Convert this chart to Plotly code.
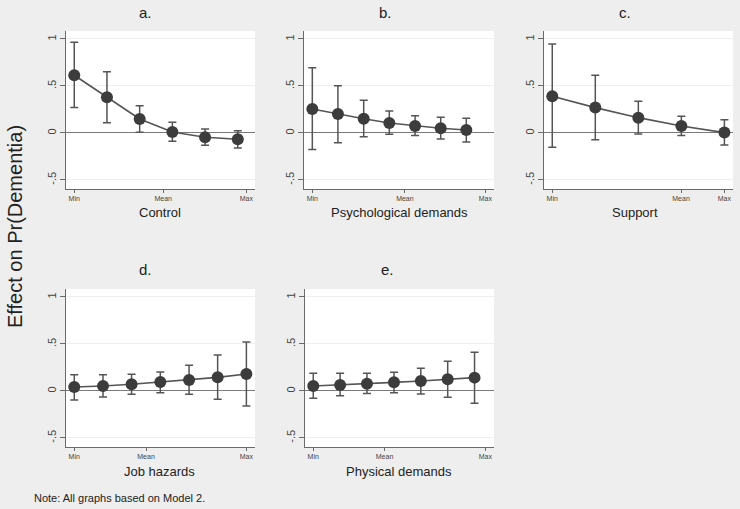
import plotly.graph_objects as go

W, H = 740, 509

# ---- data (x in units where Min=0, Max=1) ----
a_x = [0, 0.19, 0.38, 0.57, 0.76, 0.95]
a_y = [0.614, 0.38, 0.149, 0.011, -0.046, -0.067]
a_hi = [0.965, 0.652, 0.29, 0.114, 0.043, 0.025]
a_lo = [0.27, 0.11, 0.007, -0.088, -0.131, -0.16]
a_mean = 0.517

b_x = [0, 0.148, 0.297, 0.445, 0.594, 0.742, 0.89]
b_y = [0.255, 0.202, 0.152, 0.106, 0.074, 0.05, 0.032]
b_hi = [0.695, 0.503, 0.348, 0.234, 0.184, 0.167, 0.156]
b_lo = [-0.177, -0.103, -0.039, -0.014, -0.028, -0.064, -0.096]
b_mean = 0.535

c_x = [0, 0.25, 0.5, 0.75, 1.0]
c_y = [0.39, 0.27, 0.163, 0.074, 0.004]
c_hi = [0.947, 0.614, 0.337, 0.177, 0.142]
c_lo = [-0.152, -0.071, -0.011, -0.028, -0.128]
c_mean = 0.748

d_x = [0, 0.167, 0.333, 0.5, 0.667, 0.833, 1.0]
d_y = [0.043, 0.053, 0.071, 0.096, 0.117, 0.145, 0.181]
d_hi = [0.174, 0.174, 0.177, 0.202, 0.273, 0.383, 0.521]
d_lo = [-0.096, -0.064, -0.035, -0.018, -0.035, -0.089, -0.16]
d_mean = 0.417

e_x = [0, 0.156, 0.312, 0.469, 0.625, 0.781, 0.937]
e_y = [0.053, 0.064, 0.078, 0.092, 0.106, 0.124, 0.142]
e_hi = [0.188, 0.188, 0.188, 0.199, 0.241, 0.316, 0.411]
e_lo = [-0.078, -0.05, -0.028, -0.018, -0.032, -0.067, -0.131]
e_mean = 0.414

panel_letters = ["a.", "b.", "c.", "d.", "e."]
x_titles = ["Control", "Psychological demands", "Support", "Job hazards", "Physical demands"]
y_tickvals = [-0.5, 0, 0.5, 1]
y_ticktext = ["-.5", "0", ".5", "1"]
x_ticktext = ["Min", "Mean", "Max"]
y_title = "Effect on Pr(Dementia)"
note = "Note: All graphs based on Model 2."

panels = [
    (a_x, a_y, a_hi, a_lo, a_mean),
    (b_x, b_y, b_hi, b_lo, b_mean),
    (c_x, c_y, c_hi, c_lo, c_mean),
    (d_x, d_y, d_hi, d_lo, d_mean),
    (e_x, e_y, e_hi, e_lo, e_mean),
]

# ---- layout geometry (pixels) ----
boxes = [  # left, right, top, bottom
    (66, 255, 31, 189),
    (304, 494, 31, 189),
    (544, 733, 31, 189),
    (66, 255, 289, 447),
    (305, 494, 289, 447),
]
title_pos = [(145, 12), (385, 12), (625, 12), (145, 269), (387, 269)]
xtitle_pos = [(160, 212), (399, 212), (635, 212), (159, 471), (399, 471)]

FONT = "Liberation Sans, Arial, Helvetica, sans-serif"
mark_col = "#3c3c3c"
line_col = "#555555"
axis_col = "#6a6a6a"

fig = go.Figure()
layout = dict(
    width=W, height=H,
    margin=dict(l=0, r=0, t=0, b=0),
    paper_bgcolor="#eeeeee",
    plot_bgcolor="#ffffff",
    showlegend=False,
    font=dict(family=FONT, color="#333333"),
)
annotations = []

for i, ((xs, ys, hi, lo, mean), (l, r, t, b)) in enumerate(zip(panels, boxes)):
    n = i + 1
    xa = "x" if n == 1 else f"x{n}"
    ya = "y" if n == 1 else f"y{n}"
    fig.add_trace(go.Scatter(
        x=xs, y=ys, mode="lines+markers",
        xaxis=xa, yaxis=ya,
        line=dict(color=line_col, width=1.6),
        marker=dict(color=mark_col, size=12),
        error_y=dict(type="data", symmetric=False,
                     array=[h - v for h, v in zip(hi, ys)],
                     arrayminus=[v - lo_ for v, lo_ in zip(ys, lo)],
                     color=line_col, thickness=1.5, width=4),
    ))
    xkey = "xaxis" if n == 1 else f"xaxis{n}"
    ykey = "yaxis" if n == 1 else f"yaxis{n}"
    layout[xkey] = dict(
        domain=[l / W, r / W], anchor=ya,
        range=[-0.048, 1.05],
        tickvals=[0, mean, 1], ticktext=x_ticktext,
        tickfont=dict(size=7, color="#444444"),
        ticks="outside", ticklen=3, tickcolor=axis_col, tickwidth=1,
        showline=True, linecolor=axis_col, linewidth=1,
        showgrid=False, zeroline=False, fixedrange=True,
    )
    layout[ykey] = dict(
        domain=[1 - b / H, 1 - t / H], anchor=xa,
        range=[-0.596, 1.085],
        tickvals=y_tickvals, ticktext=y_ticktext, tickangle=-90,
        tickfont=dict(size=11, color="#444444"),
        ticks="outside", ticklen=5, tickcolor=axis_col, tickwidth=1,
        showline=True, linecolor=axis_col, linewidth=1,
        showgrid=True, gridcolor="#efefef", gridwidth=1,
        zeroline=True, zerolinecolor="#7a7a7a", zerolinewidth=1,
        fixedrange=True,
    )
    tx, ty = title_pos[i]
    annotations.append(dict(text=panel_letters[i], x=tx / W, y=1 - ty / H,
                            xref="paper", yref="paper", showarrow=False,
                            xanchor="center", yanchor="middle",
                            font=dict(size=15, color="#222222")))
    xx, xy = xtitle_pos[i]
    annotations.append(dict(text=x_titles[i], x=xx / W, y=1 - xy / H,
                            xref="paper", yref="paper", showarrow=False,
                            xanchor="center", yanchor="middle",
                            font=dict(size=13, color="#222222")))

annotations.append(dict(text=y_title, x=15 / W, y=1 - 227 / H,
                        xref="paper", yref="paper", showarrow=False,
                        textangle=-90, xanchor="center", yanchor="middle",
                        font=dict(size=20, color="#222222")))
annotations.append(dict(text=note, x=32 / W, y=1 - 498 / H,
                        xref="paper", yref="paper", showarrow=False,
                        xanchor="left", yanchor="middle",
                        font=dict(size=11, color="#222222")))
layout["annotations"] = annotations
fig.update_layout(**layout)
fig.write_html(
    "out.html",
    config={"displayModeBar": False},
    post_script="document.body.style.margin='0';document.body.style.overflow='hidden';",
)
